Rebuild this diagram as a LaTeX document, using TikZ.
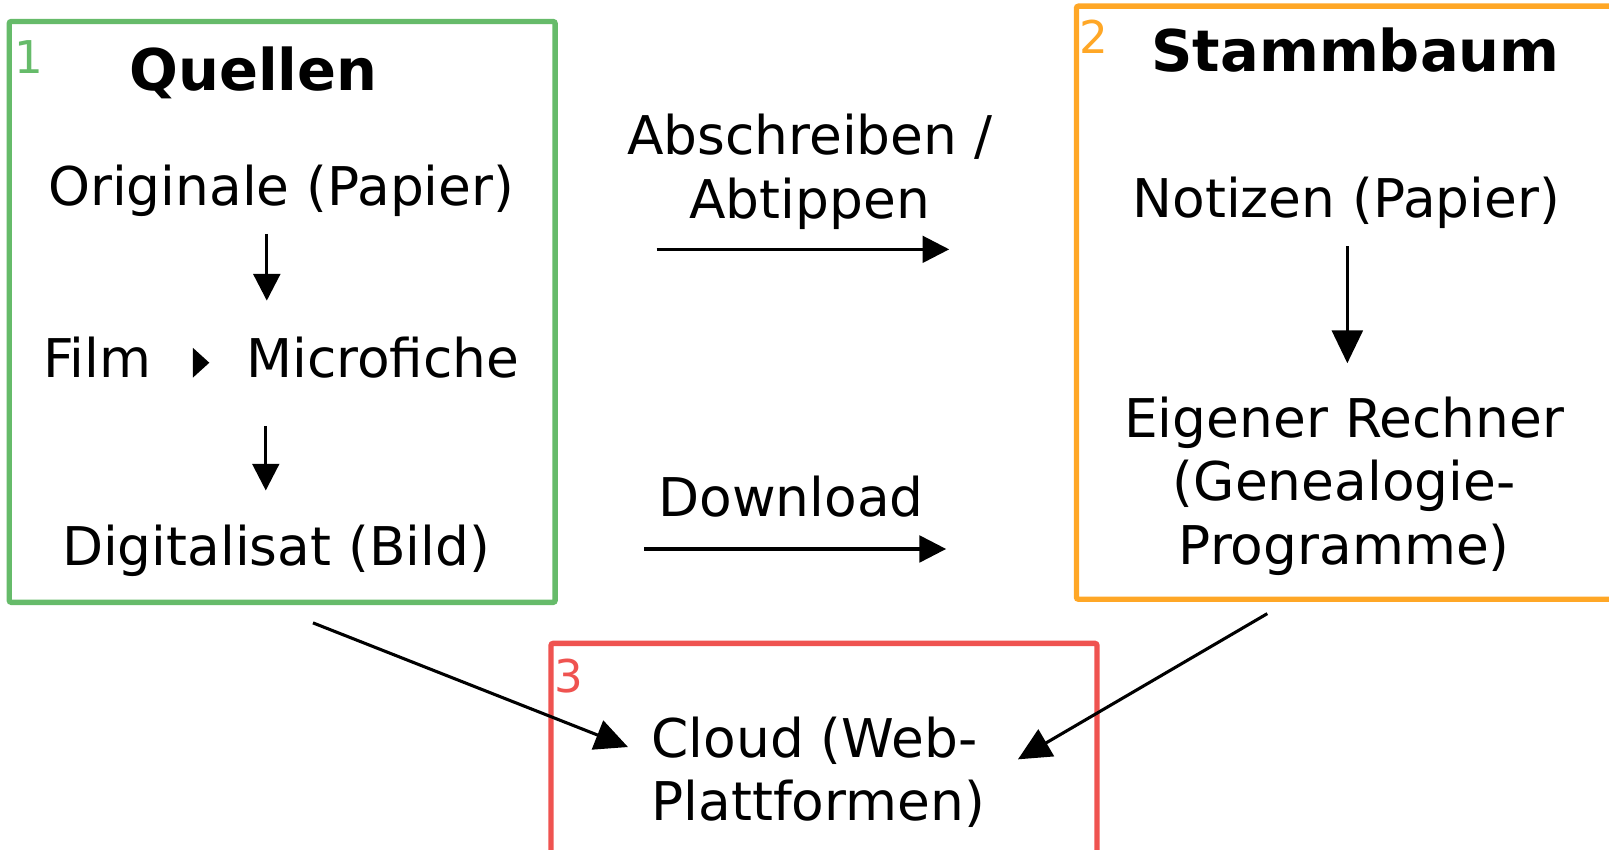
\documentclass[tikz,border=0pt]{standalone}
\usepackage{fontspec}
\setmainfont{DejaVu Sans}
\usetikzlibrary{arrows.meta}
\definecolor{cgreen}{RGB}{102,187,106}
\definecolor{corange}{RGB}{255,167,38}
\definecolor{cred}{RGB}{239,83,80}
\begin{document}
\begin{tikzpicture}[x=0.5pt,y=-0.5pt,
  txt/.style={font=\fontsize{26}{31}\selectfont, inner sep=0pt, outer sep=0pt},
  ttl/.style={font=\fontsize{28}{33}\selectfont\bfseries, inner sep=0pt},
  num/.style={font=\fontsize{22}{26}\selectfont, inner sep=0pt},
  frame/.style={line width=2.6pt, rounded corners=1pt},
  arr/.style={line width=1.5pt, -{Triangle[length=13pt,width=13pt]}},
  bigarr/.style={line width=1.5pt, -{Triangle[length=16pt,width=15pt]}}]
\useasboundingbox (0,0) rectangle (1568,827.4);
\clip (0,0) rectangle (1568,827.4);
% frames
\draw[frame, draw=cgreen] (9,21) rectangle (541,587);
\draw[frame, draw=corange] (1049,6) rectangle (1640,584);
\draw[frame, draw=cred] (537,627) rectangle (1069,880);
% numbers
\node[num, text=cgreen, anchor=base west] (n1) at (14,72) {1};
\node[num, text=corange, anchor=base west] (n2) at (1052,52) {2};
\node[num, text=cred, anchor=base west] (n3) at (540,675) {3};
% box 1
\node[ttl, anchor=base] (quellen) at (247,88) {Quellen};
\node[txt, anchor=base] (orig) at (274,200) {Originale (Papier)};
\node[txt, anchor=base west] (film) at (42,368) {Film};
\node[txt, anchor=base west] (micro) at (240,368) {Microfiche};
\node[txt, anchor=base] (digi) at (269,551) {Digitalisat (Bild)};
% box 2
\node[ttl, anchor=base] (stamm) at (1321,70) {Stammbaum};
\node[txt, anchor=base] (notiz) at (1312,212) {Notizen (Papier)};
\node[txt, anchor=base, align=center] (rechner) at (1310,550) {Eigener Rechner\\(Genealogie-\\Programme)};
% box 3
\node[txt, anchor=base west, align=left] (cloud) at (635,800) {Cloud (Web-\\Plattformen)};
% middle labels
\node[txt, anchor=base, align=center] (abs) at (789,213) {Abschreiben /\\Abtippen};
\node[txt, anchor=base] (down) at (771,503) {Download};
% arrow end points
\coordinate (a1s) at (260,228); \coordinate (a1e) at (260,293);
\coordinate (a2s) at (259,415); \coordinate (a2e) at (259,478);
\coordinate (a3s) at (640,243); \coordinate (a3e) at (925,243);
\coordinate (a4s) at (628,535); \coordinate (a4e) at (922,535);
\coordinate (a5s) at (1313,240); \coordinate (a5e) at (1313,354);
\coordinate (a6s) at (305,607); \coordinate (a6e) at (612,728);
\coordinate (a7s) at (1235,598); \coordinate (a7e) at (992,740);
\draw[arr] (a1s) -- (a1e);
\draw[arr] (a2s) -- (a2e);
\draw[arr] (a3s) -- (a3e);
\draw[arr] (a4s) -- (a4e);
\draw[bigarr] (a5s) -- (a5e);
\draw[bigarr] (a6s) -- (a6e);
\draw[bigarr] (a7s) -- (a7e);
% film -> microfiche marker
\fill (188,339) -- (204,353.5) -- (188,368) -- cycle;
\end{tikzpicture}
\end{document}
